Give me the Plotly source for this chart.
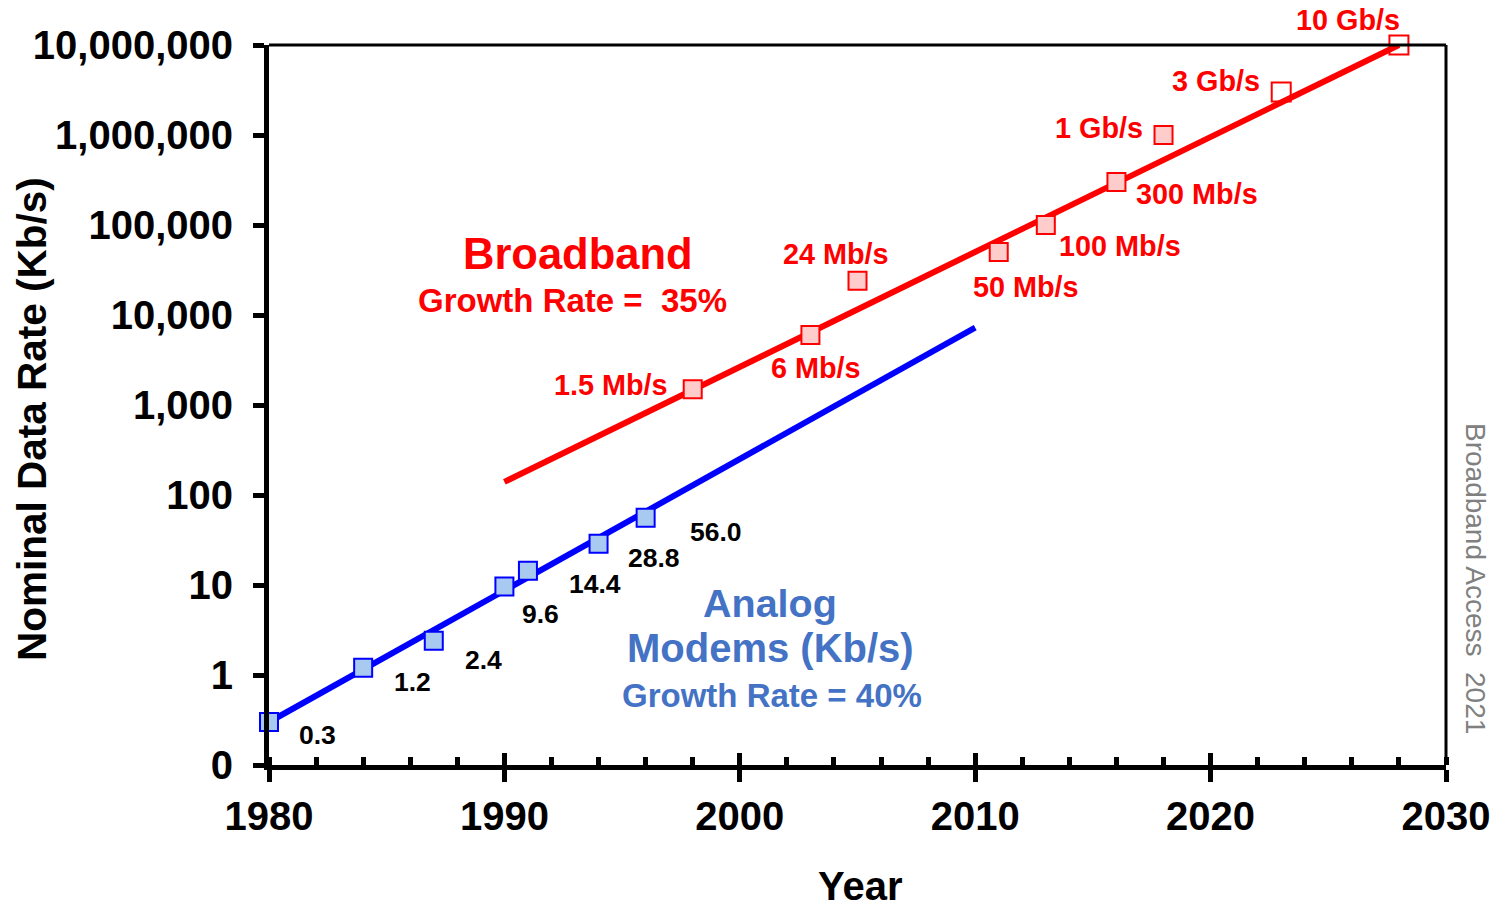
import math
import plotly.graph_objects as go

# ---------------- data ----------------
modem_years = [1980, 1984, 1987, 1990, 1991, 1994, 1996]
modem_rates = [0.3, 1.2, 2.4, 9.6, 14.4, 28.8, 56.0]
modem_labels = ["0.3", "1.2", "2.4", "9.6", "14.4", "28.8", "56.0"]

bb_years = [1998, 2003, 2005, 2011, 2013, 2016, 2018, 2023, 2028]
bb_rates = [1500, 6000, 24000, 50000, 100000, 300000, 1000000, 3000000, 10000000]
bb_labels = ["1.5 Mb/s", "6 Mb/s", "24 Mb/s", "50 Mb/s", "100 Mb/s",
             "300 Mb/s", "1 Gb/s", "3 Gb/s", "10 Gb/s"]
bb_future = [False, False, False, False, False, False, False, True, True]

modem_trend_years = [1980, 2010]
modem_trend_rates = [0.3, 7260]
bb_trend_years = [1990, 2028]
bb_trend_rates = [140, 10000000]

y_tickvals = [0.1, 1, 10, 100, 1000, 10000, 100000, 1000000, 10000000]
y_ticktext = ["0", "1", "10", "100", "1,000", "10,000", "100,000", "1,000,000", "10,000,000"]
x_tickvals = [1980, 1990, 2000, 2010, 2020, 2030]

# ---------------- style ----------------
FONT = "Liberation Sans, Arial, sans-serif"
RED = "#FF0000"
BLUE = "#0000FF"
TXT_BLUE = "#4472C4"
W, H = 1497, 907
L, R, T, B = 269, 1446, 45, 765

modem_offsets = [(48, 13), (49, 14), (50, 19), (36, 27), (67, 13), (55, 14), (70, 14)]
bb_offsets = [(-82, -4), (6, 33), (-22, -27), (27, 35), (74, 21), (81, 12),
              (-65, -7), (-65, -11), (-51, -25)]


def px(xp, yp):
    return (xp - L) / (R - L), (B - yp) / (B - T)


fig = go.Figure()

fig.add_trace(go.Scatter(x=bb_trend_years, y=bb_trend_rates, mode="lines",
                         line=dict(color=RED, width=6), hoverinfo="skip", showlegend=False))
fig.add_trace(go.Scatter(x=modem_trend_years, y=modem_trend_rates, mode="lines",
                         line=dict(color=BLUE, width=6), hoverinfo="skip", showlegend=False))

fig.add_trace(go.Scatter(x=modem_years, y=modem_rates, mode="markers",
                         marker=dict(symbol="square", size=18, color="#A9CAF0",
                                     line=dict(color=BLUE, width=2)),
                         showlegend=False, cliponaxis=False))

cur_x = [x for x, f in zip(bb_years, bb_future) if not f]
cur_y = [y for y, f in zip(bb_rates, bb_future) if not f]
fut_x = [x for x, f in zip(bb_years, bb_future) if f]
fut_y = [y for y, f in zip(bb_rates, bb_future) if f]
fig.add_trace(go.Scatter(x=cur_x, y=cur_y, mode="markers",
                         marker=dict(symbol="square", size=18, color="#FFCCCC",
                                     line=dict(color=RED, width=2)),
                         showlegend=False, cliponaxis=False))
fig.add_trace(go.Scatter(x=fut_x, y=fut_y, mode="markers",
                         marker=dict(symbol="square-open", size=19, color=RED,
                                     line=dict(color=RED, width=2)),
                         showlegend=False, cliponaxis=False))
# dummy trace for the overlay axis (crossing major ticks)
fig.add_trace(go.Scatter(x=[], y=[], xaxis="x2", showlegend=False))

ann = []
for xv, yv, t, (dx, dy) in zip(modem_years, modem_rates, modem_labels, modem_offsets):
    ann.append(dict(x=xv, y=math.log10(yv), xref="x", yref="y", text=t, showarrow=False,
                    xshift=dx, yshift=-dy,
                    font=dict(family=FONT, size=26.5, color="black", weight="bold")))
for xv, yv, t, (dx, dy) in zip(bb_years, bb_rates, bb_labels, bb_offsets):
    ann.append(dict(x=xv, y=math.log10(yv), xref="x", yref="y", text=t, showarrow=False,
                    xshift=dx, yshift=-dy,
                    font=dict(family=FONT, size=28.8, color=RED, weight="bold")))


def text_ann(xp, yp, text, size, color, weight="bold", angle=0):
    x, y = px(xp, yp)
    return dict(x=x, y=y, xref="paper", yref="paper", text=text, showarrow=False,
                textangle=angle, xanchor="center", yanchor="middle",
                font=dict(family=FONT, size=size, color=color, weight=weight))


ann += [
    text_ann(578, 254, "Broadband", 43.5, RED),
    text_ann(572, 300, "Growth Rate =\u00a0 35%", 33, RED),
    text_ann(770, 603, "Analog", 39.5, TXT_BLUE),
    text_ann(770, 648, "Modems (Kb/s)", 40, TXT_BLUE),
    text_ann(772, 695, "Growth Rate = 40%", 33, TXT_BLUE),
    text_ann(1476, 578, "Broadband Access\u00a0 2021", 28, "#808080", weight="normal", angle=90),
    text_ann(860, 886, "Year", 40, "black"),
    text_ann(32, 419, "Nominal Data Rate (Kb/s)", 40.5, "black", angle=-90),
]

fig.update_layout(
    width=W, height=H,
    margin=dict(l=L, r=W - R, t=T, b=H - B, autoexpand=False),
    plot_bgcolor="white", paper_bgcolor="white",
    showlegend=False,
    annotations=ann,
    xaxis=dict(range=[1980, 2030], tickvals=x_tickvals, ticktext=[str(v) for v in x_tickvals],
               showline=True, linecolor="black", linewidth=5,
               ticks="outside", ticklen=12, tickwidth=5, tickcolor="black",
               tickfont=dict(family=FONT, size=40, color="black", weight="bold"),
               ticklabelstandoff=0, automargin=False,
               minor=dict(dtick=2, tick0=1980, ticks="inside", ticklen=8, tickwidth=5, tickcolor="black"),
               showgrid=False, zeroline=False, fixedrange=True),
    xaxis2=dict(range=[1980, 2030], overlaying="x", anchor="y", side="bottom",
                tickvals=x_tickvals, ticks="inside", ticklen=12, tickwidth=5, tickcolor="black",
                showticklabels=False, showline=False, showgrid=False, zeroline=False,
                automargin=False),
    yaxis=dict(type="log", range=[-1, 7], tickvals=y_tickvals, ticktext=y_ticktext,
               showline=True, linecolor="black", linewidth=5,
               ticks="outside", ticklen=11, tickwidth=5, tickcolor="black",
               tickfont=dict(family=FONT, size=40, color="black", weight="bold"),
               ticklabelstandoff=12, automargin=False,
               showgrid=False, zeroline=False, fixedrange=True),
    shapes=[
        dict(type="line", xref="paper", yref="paper", x0=0, x1=1, y0=1, y1=1,
             line=dict(color="black", width=3)),
        dict(type="line", xref="paper", yref="paper", x0=1, x1=1, y0=0, y1=1,
             line=dict(color="black", width=3)),
    ],
)

fig.write_html("out.html", config={"displayModeBar": False},
               post_script="document.body.style.margin='0px';document.body.style.overflow='hidden';")
